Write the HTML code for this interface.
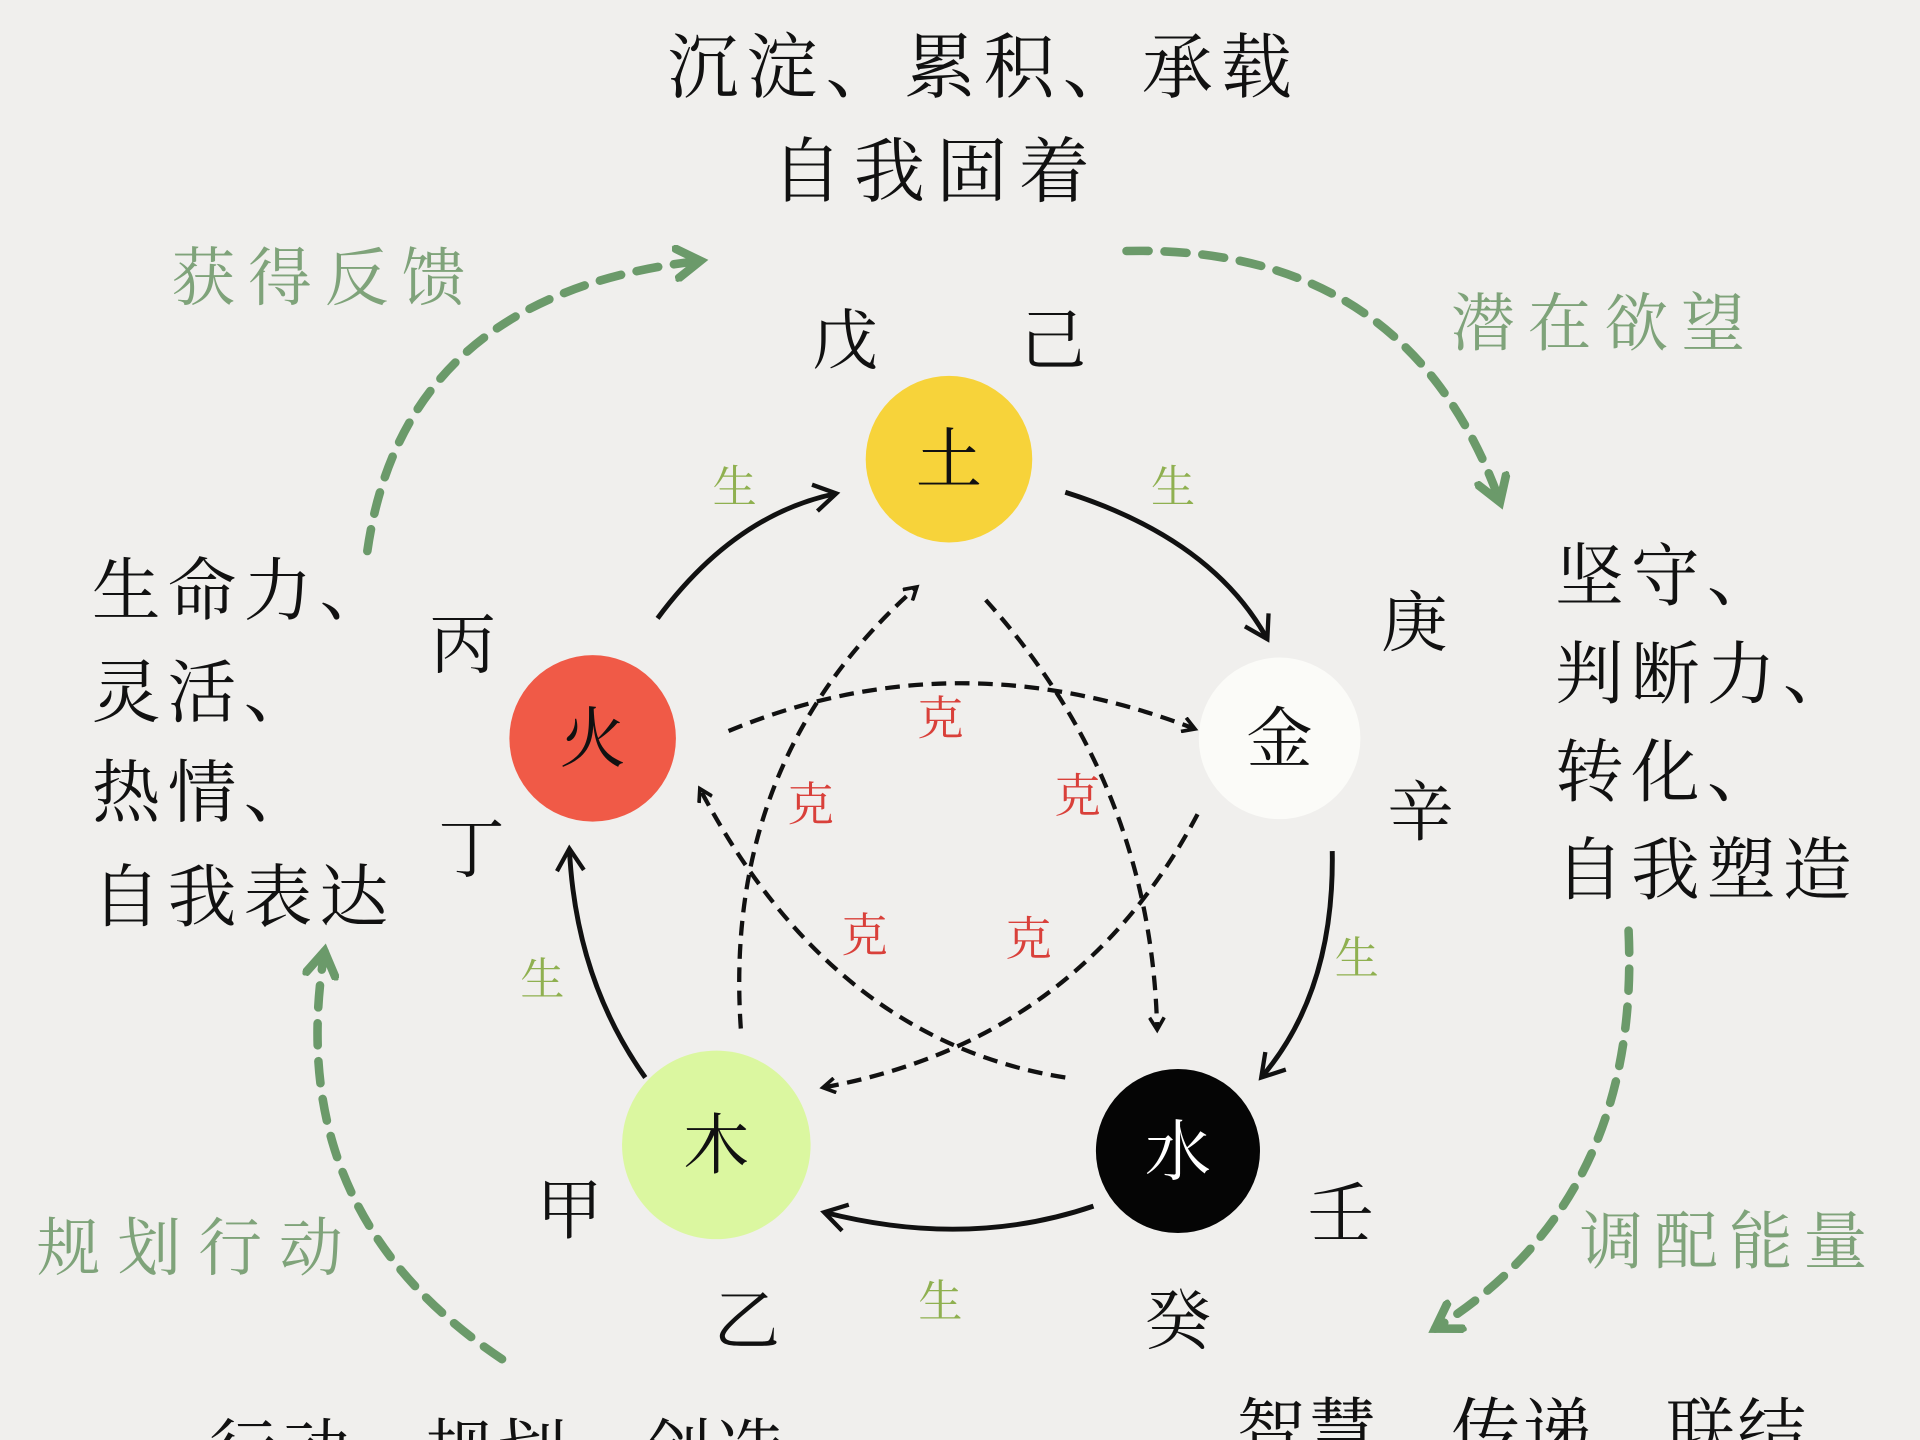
<!DOCTYPE html>
<html><head><meta charset="utf-8"><style>
html,body{margin:0;padding:0;background:#f0efed;}
svg{display:block;}
text{font-family:"Liberation Sans","Noto Serif CJK SC","Noto Sans CJK SC",serif;}
</style></head><body>
<svg width="1920" height="1440" viewBox="0 0 1568 1176" xmlns="http://www.w3.org/2000/svg">
<defs>
<marker id="ah" markerWidth="14" markerHeight="14" refX="10" refY="7" orient="auto" markerUnits="userSpaceOnUse">
<path d="M1,1 L11,7 L1,13" fill="none" stroke="#111" stroke-width="3"/></marker>
<marker id="ah2" markerWidth="26" markerHeight="26" refX="20" refY="13" orient="auto" markerUnits="userSpaceOnUse">
<path d="M2,2 L20,13 L2,24" fill="none" stroke="#111" stroke-width="3.5"/></marker>
<marker id="ag" markerWidth="30" markerHeight="30" refX="22" refY="15" orient="auto" markerUnits="userSpaceOnUse">
<path d="M3,3 L22,15 L3,27" fill="none" stroke="#6b9a6a" stroke-width="7" stroke-linecap="round"/></marker>
</defs>
<rect width="1568" height="1176" fill="#f0efed"/>
<g font-size="58" fill="#111">
<text x="545" y="75" textLength="510">沉淀、累积、承载</text>
<text x="630" y="160" textLength="260">自我固着</text>
</g>
<g font-size="52" fill="#7fa37a">
<text x="140" y="245" textLength="240">获得反馈</text>
<text x="1185" y="282" textLength="240">潜在欲望</text>
<text x="30" y="1037" textLength="250">规划行动</text>
<text x="1290" y="1032" textLength="235">调配能量</text>
</g>
<g font-size="56" fill="#111" letter-spacing="6">
<text x="75" y="502">生命力、</text>
<text x="75" y="585">灵活、</text>
<text x="75" y="667">热情、</text>
<text x="75" y="752">自我表达</text>
<text x="1270" y="490">坚守、</text>
<text x="1270" y="570">判断力、</text>
<text x="1270" y="650">转化、</text>
<text x="1270" y="730">自我塑造</text>
</g>
<g font-size="56" fill="#111">
<text x="170" y="1205" textLength="470">行动、规划、创造</text>
<text x="1010" y="1188" textLength="465">智慧、传递、联结</text>
</g>
<g font-size="54" fill="#111" text-anchor="middle">
<text x="690" y="297">戊</text><text x="860" y="297">己</text>
<text x="1155" y="527">庚</text><text x="1160" y="682">辛</text>
<text x="1095" y="1010">壬</text><text x="962" y="1097">癸</text>
<text x="610" y="1097">乙</text><text x="465" y="1007">甲</text>
<text x="385" y="712">丁</text><text x="378" y="545">丙</text>
</g>
<g fill="none" stroke="#6b9a6a" stroke-width="7" stroke-dasharray="18 13" stroke-linecap="round" marker-end="url(#ag)">
<path d="M300,450 Q330,240 572,213"/>
<path d="M920,205 Q1150,200 1225,410"/>
<path d="M1330,760 Q1340,980 1172,1085"/>
<path d="M410,1110 Q230,990 265,777"/>
</g>
<circle cx="775" cy="375" r="68" fill="#f7d33a"/>
<circle cx="1045" cy="603" r="66" fill="#fbfbf8"/>
<circle cx="962" cy="940" r="67" fill="#050505"/>
<circle cx="585" cy="935" r="77" fill="#dbf7a0"/>
<circle cx="484" cy="603" r="68" fill="#f05a47"/>
<g font-size="54" text-anchor="middle">
<text x="775" y="394" fill="#111">土</text>
<text x="1045" y="622" fill="#111">金</text>
<text x="962" y="959" fill="#fff">水</text>
<text x="585" y="954" fill="#111">木</text>
<text x="484" y="622" fill="#111">火</text>
</g>
<g fill="none" stroke="#111" stroke-width="4" marker-end="url(#ah2)">
<path d="M537,505 Q600,420 683,403"/>
<path d="M870,402 Q990,440 1035,522"/>
<path d="M1088,695 Q1090,810 1030,880"/>
<path d="M893,985 Q790,1020 673,990"/>
<path d="M527,880 Q470,800 465,693"/>
</g>
<g fill="none" stroke="#111" stroke-width="3.5" stroke-dasharray="12 7" marker-end="url(#ah)">
<path d="M595,597 Q780,520 975,595"/>
<path d="M805,490 Q940,640 945,840"/>
<path d="M978,665 Q880,850 673,888"/>
<path d="M870,880 Q680,850 572,645"/>
<path d="M605,840 Q590,620 748,480"/>
</g>
<g font-size="36" fill="#8fb050" text-anchor="middle">
<text x="600" y="410">生</text><text x="958" y="410">生</text>
<text x="1108" y="795">生</text><text x="768" y="1075">生</text>
<text x="443" y="812">生</text>
</g>
<g font-size="38" fill="#d9403a" text-anchor="middle">
<text x="768" y="600">克</text><text x="662" y="670">克</text>
<text x="880" y="663">克</text><text x="706" y="777">克</text>
<text x="840" y="780">克</text>
</g>
</svg>
</body></html>
